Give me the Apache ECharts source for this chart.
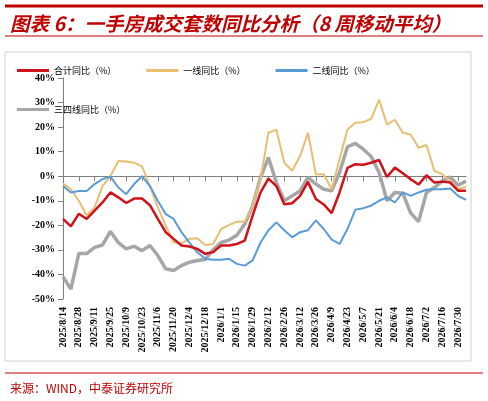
<!DOCTYPE html>
<html><head><meta charset="utf-8">
<script src="https://cdn.jsdelivr.net/npm/echarts@6/dist/echarts.min.js"></script>
<style>html,body{margin:0;padding:0;background:#fff}#c{width:488px;height:401px}</style>
</head><body><div id="c"></div>
<script>
const categories = ["2025/8/14","2025/8/21","2025/8/28","2025/9/4","2025/9/11","2025/9/18","2025/9/25","2025/10/2","2025/10/9","2025/10/16","2025/10/23","2025/10/30","2025/11/6","2025/11/13","2025/11/20","2025/11/27","2025/12/4","2025/12/11","2025/12/18","2025/12/25","2026/1/1","2026/1/8","2026/1/15","2026/1/22","2026/1/29","2026/2/5","2026/2/12","2026/2/19","2026/2/26","2026/3/5","2026/3/12","2026/3/19","2026/3/26","2026/4/2","2026/4/9","2026/4/16","2026/4/23","2026/4/30","2026/5/7","2026/5/14","2026/5/21","2026/5/28","2026/6/4","2026/6/11","2026/6/18","2026/6/25","2026/7/2","2026/7/9","2026/7/16","2026/7/23","2026/7/30","2026/8/6"];
const totalYoY = [-17.4,-20.4,-15.3,-17.4,-14,-10.7,-6.6,-8.6,-10.9,-9.1,-9.1,-11.8,-17.4,-22.8,-25.5,-28.2,-28.6,-29.6,-31.6,-30.9,-28.2,-28.2,-27.6,-26.2,-16,-6.6,-1,-4,-11.4,-11,-8,-2.3,-9.3,-11.5,-15,-6.6,3.4,4.9,4.7,5.5,6.6,-0.3,3.5,1.2,-1.2,-3.4,0.4,-2.6,-2.2,-2.6,-5.9,-5.9];
const tier1YoY = [-3,-5.3,-10,-16,-12.7,-4,0,6.2,6,5.5,4,-4,-12.7,-20,-27,-27.3,-25.5,-25.3,-28,-27.6,-21.5,-19.9,-18.5,-18.5,-12,-1.2,17.7,19,5.5,2.2,8.2,17.7,0.8,0.8,-5.3,6.9,19,21.8,22,23.4,31.2,21,23,17.7,17,11.6,12.7,2.2,0.8,-1.9,-5.3,-4.3];
const tier2YoY = [-4,-6.6,-6,-6,-3.2,-1.2,-0.1,-4.6,-7.3,-3.2,0,-4,-10,-15.4,-17.4,-22.8,-27,-31,-33.6,-34,-34,-33.6,-35.7,-36.4,-34.3,-27,-22,-18.8,-22,-24.9,-22.8,-22,-18,-21.5,-25.8,-27.6,-21.5,-13.6,-13,-12,-10,-8.6,-10.7,-6.6,-8,-6.6,-5.5,-5.3,-5.3,-5,-8,-9.6];
const tier34YoY = [-41,-46,-31.5,-31.5,-29,-28,-22.5,-27,-29.6,-28.5,-30.3,-28.2,-32.3,-37.7,-38.4,-36.4,-35,-34.3,-33.9,-30,-27,-26,-24,-19.5,-12,-0.5,7.6,-2.6,-10,-8,-6,-0.5,-3.2,-5.3,-5.9,1.5,12,13.4,11,8,1.5,-10,-6.6,-6.9,-15,-18.5,-6.6,-4.6,-2,-0.3,-3.7,-2];
const seriesNames = ["合计同比（%）","一线同比（%）","二线同比（%）","三四线同比（%）"];
const colors = ["#d0121b","#e8be73","#5b9bd5","#a6a6a6"];
const lineWidths = [2.5,2,2,3.5];
const dataSets = [totalYoY,tier1YoY,tier2YoY,tier34YoY];
const chart = echarts.init(document.getElementById('c'));
const serif = 'Times New Roman, Liberation Serif, serif';
chart.setOption({
  animation:false,
  title:[
    {text:'图表 6：一手房成交套数同比分析（8 周移动平均）',left:5,top:9,textStyle:{color:'#c00000',fontSize:19.5,fontStyle:'italic',fontWeight:'bold',fontFamily:'Noto Sans CJK SC'}},
    {text:'来源：WIND，中泰证券研究所',left:5,top:377,textStyle:{color:'#c00000',fontSize:12,fontWeight:'normal',fontFamily:'Noto Sans CJK SC'}}
  ],
  graphic:[
    {type:'line',shape:{x1:5,y1:6,x2:483,y2:6},style:{stroke:'#c00000',lineWidth:3}},
    {type:'line',shape:{x1:5,y1:36,x2:483,y2:36},style:{stroke:'#c00000',lineWidth:1}},
    {type:'rect',shape:{x:5,y:52,width:466,height:309},style:{fill:'none',stroke:'#d0d0d0',lineWidth:1}},
    {type:'line',shape:{x1:5,y1:373,x2:483,y2:373},style:{stroke:'#c00000',lineWidth:1}}
  ],
  legend:{top:61,left:12,itemWidth:32,itemHeight:3,itemGap:30,icon:'rect',
    textStyle:{fontSize:9,fontFamily:'Noto Sans CJK SC',color:'#000'},
    data:seriesNames},
  grid:{left:63,right:22,top:78,bottom:102},
  xAxis:{type:'category',data:categories,boundaryGap:false,
    axisLine:{lineStyle:{color:'#808080'}},axisTick:{show:true,interval:1,lineStyle:{color:'#808080'}},
    axisLabel:{interval:1,rotate:90,fontSize:10,fontWeight:'bold',fontFamily:serif,color:'#000'}},
  yAxis:{type:'value',min:-50,max:40,interval:10,
    axisLine:{show:true,lineStyle:{color:'#808080'}},axisTick:{show:true,lineStyle:{color:'#808080'}},splitLine:{show:false},
    axisLabel:{formatter:'{value}%',fontSize:10,fontWeight:'bold',fontFamily:serif,color:'#000'}},
  series:seriesNames.map((n,i)=>({name:n,type:'line',data:dataSets[i],symbol:'none',z:[4,2,3,1][i],
    lineStyle:{color:colors[i],width:lineWidths[i]},itemStyle:{color:colors[i]}}))
});
</script></body></html>
